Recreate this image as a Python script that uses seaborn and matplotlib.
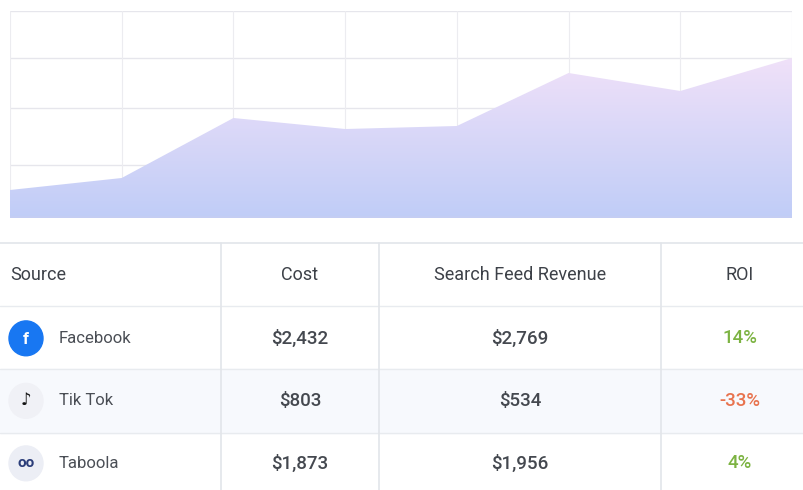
import numpy as np
import pandas as pd
import matplotlib
matplotlib.use("Agg")
import matplotlib.pyplot as plt
import seaborn as sns
from matplotlib.patches import Polygon, Circle, Rectangle

# data
periods = [0, 1, 2, 3, 4, 5, 6, 7]
revenue = [28, 40, 100, 89, 92, 145, 127, 160]
grid_levels = [53, 110, 160, 207]
sources = ["Facebook", "Tik Tok", "Taboola"]
costs = ["$2,432", "$803", "$1,873"]
revenues = ["$2,769", "$534", "$1,956"]
rois = ["14%", "-33%", "4%"]
headers = ["Source", "Cost", "Search Feed Revenue", "ROI"]

sns.set_theme(style="white")
plt.rcParams['font.family'] = ['Roboto', 'DejaVu Sans']
W, H = 804, 490
fig = plt.figure(figsize=(W/100, H/100), dpi=100)

# chart axes: x 10..792, y 11..218 px
ax = fig.add_axes([10/W, 1-218/H, 782/W, 207/H])
df = pd.DataFrame({"x": periods, "y": revenue})
sns.lineplot(data=df, x="x", y="y", ax=ax, linewidth=0, color="#c8c8f5")
ax.set_xlim(0, 7); ax.set_ylim(0, 207)
for lv in grid_levels:
    ax.axhline(lv, color="#e6e6ec", lw=1, zorder=0)
for p in periods[1:-1]:
    ax.axvline(p, color="#ececf0", lw=0.8, zorder=0)
verts = [(0, 0)] + list(zip(periods, revenue)) + [(7, 0)]
poly = Polygon(verts, closed=True, facecolor="none", edgecolor="none")
ax.add_patch(poly)
grad = np.zeros((100, 100, 3))
top = np.array(matplotlib.colors.to_rgb("#f3e2f9"))
bot = np.array(matplotlib.colors.to_rgb("#c0cdf7"))
for i in range(100):
    t = i/99
    grad[i, :, :] = top*(1-t) + bot*t
im = ax.imshow(grad, extent=[0, 7, 0, 170], aspect="auto", origin="upper", zorder=1)
im.set_clip_path(poly)
ax.axhline(0.5, color="#c4cdf3", lw=1.5, zorder=2)
ax.set_xlabel(""); ax.set_ylabel("")
ax.set_xticks([]); ax.set_yticks([])
for s in ax.spines.values():
    s.set_visible(False)
ax.plot([0, 0], [0, 207], color="#ececf0", lw=0.8, zorder=0)
ax.plot([7, 7], [0, 207], color="#ececf0", lw=0.8, zorder=0)

# table axes in pixel coords
tx = fig.add_axes([0, 0, 1, 248/H])
tx.set_xlim(0, W); tx.set_ylim(490, 248)
tx.axis("off")
rows_y = [310, 372, 434, 496]
tx.add_patch(Rectangle((0, 372), W, 62, color="#f7f9fd", zorder=0))
tx.plot([0, W], [249, 249], color="#e2e5ea", lw=1.2)
for y in [310, 372, 434]:
    tx.plot([0, W], [y, y], color="#e8ebef", lw=1)
for x in [221, 379, 661]:
    tx.plot([x, x], [249, 490], color="#e2e5ea", lw=1.2)
cx = [10, 300, 520, 740]
tc = "#3d4148"
tx.text(cx[0], 280, headers[0], ha="left", va="center", fontsize=13, color=tc)
for c, h in zip(cx[1:], headers[1:]):
    tx.text(c, 280, h, ha="center", va="center", fontsize=13, color=tc)
for i in range(3):
    yc = 342 + 61*i
    if i == 0:
        tx.add_patch(Circle((26, yc), 17, color="#1877f2"))
        tx.text(26, yc+1, "f", ha="center", va="center", color="white", fontsize=12, fontweight="bold")
    elif i == 1:
        tx.add_patch(Circle((26, yc), 17, color="#f0f1f6"))
        tx.text(26, yc, "♪", ha="center", va="center", color="#111", fontsize=12)
    else:
        tx.add_patch(Circle((26, yc), 17, color="#eceef5"))
        tx.text(26, yc, "oo", ha="center", va="center", color="#2c3e7a", fontsize=11, fontweight="bold")
    tx.text(59, yc, sources[i], ha="left", va="center", fontsize=12, color="#4a4e55")
    tx.text(cx[1], yc, costs[i], ha="center", va="center", fontsize=13.5, color="#44484f", fontweight="medium")
    tx.text(cx[2], yc, revenues[i], ha="center", va="center", fontsize=13.5, color="#44484f", fontweight="medium")
    col = "#e8734e" if rois[i].startswith("-") else "#7cb342"
    tx.text(cx[3], yc, rois[i], ha="center", va="center", fontsize=13.5, color=col, fontweight="medium")

fig.savefig("out.png", dpi=100, facecolor="white")
